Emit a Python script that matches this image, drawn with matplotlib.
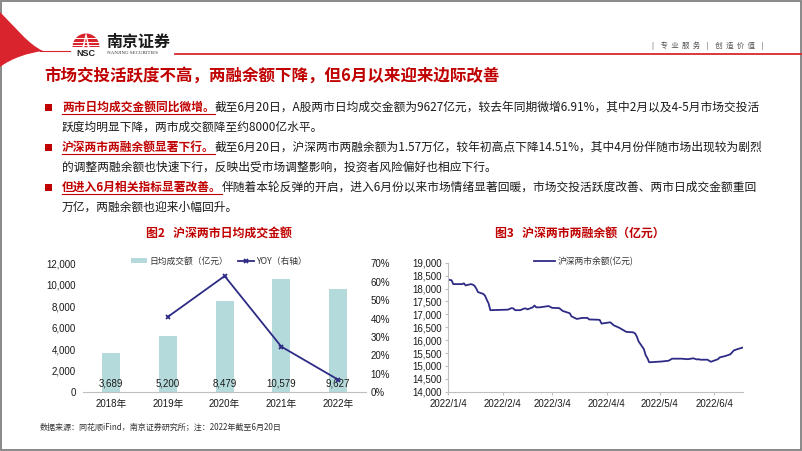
import matplotlib
matplotlib.use("Agg")
import matplotlib.pyplot as plt
from matplotlib.path import Path
from matplotlib.patches import PathPatch, Rectangle, Wedge, Polygon
from matplotlib.ticker import FuncFormatter, MultipleLocator
from matplotlib.lines import Line2D
import pandas as pd
import numpy as np

CJK = ['Noto Sans CJK SC', 'DejaVu Sans']
LAT = ['Liberation Sans', 'Noto Sans CJK SC']
plt.rcParams['font.family'] = LAT

# ---------------- data ----------------
years = ["2018年", "2019年", "2020年", "2021年", "2022年"]
turnover = [3689, 5200, 8479, 10579, 9627]
yoy = [np.nan, 41.0, 63.1, 24.8, 6.91]

margin_dates = [
    "2022-01-04", "2022-01-05", "2022-01-06", "2022-01-07", "2022-01-10", "2022-01-12",
    "2022-01-13", "2022-01-14", "2022-01-17", "2022-01-18", "2022-01-19", "2022-01-20",
    "2022-01-21", "2022-01-24", "2022-01-25", "2022-01-26", "2022-01-27", "2022-01-28",
    "2022-02-07", "2022-02-08", "2022-02-09", "2022-02-10", "2022-02-11", "2022-02-14",
    "2022-02-16", "2022-02-17", "2022-02-18", "2022-02-21", "2022-02-22", "2022-02-23",
    "2022-02-25", "2022-02-28", "2022-03-02", "2022-03-04", "2022-03-08", "2022-03-10",
    "2022-03-14", "2022-03-15", "2022-03-18", "2022-03-21", "2022-03-24", "2022-03-25",
    "2022-03-30", "2022-03-31", "2022-04-01", "2022-04-06", "2022-04-08", "2022-04-11",
    "2022-04-14", "2022-04-15", "2022-04-19", "2022-04-20", "2022-04-21", "2022-04-22",
    "2022-04-25", "2022-04-26", "2022-04-27", "2022-04-28", "2022-05-05", "2022-05-09",
    "2022-05-11", "2022-05-16", "2022-05-20", "2022-05-23", "2022-05-25", "2022-05-26",
    "2022-05-27", "2022-05-31", "2022-06-02", "2022-06-06", "2022-06-07", "2022-06-10",
    "2022-06-13", "2022-06-15", "2022-06-17", "2022-06-20"]
margin_values = [
    18350, 18330, 18320, 18170, 18170, 18170,
    18200, 18120, 18170, 18150, 18110, 18000,
    17860, 17790, 17720, 17560, 17420, 17160,
    17180, 17210, 17240, 17230, 17160, 17160,
    17220, 17230, 17190, 17270, 17340, 17270,
    17270, 17300, 17320, 17250, 17240, 17130,
    17040, 16920, 16820, 16860, 16860, 16800,
    16790, 16780, 16640, 16690, 16570, 16480,
    16360, 16320, 16300, 16260, 16140, 15950,
    15650, 15420, 15300, 15140, 15170, 15200,
    15280, 15280, 15260, 15295, 15250, 15260,
    15240, 15240, 15160, 15260, 15330, 15380,
    15450, 15600, 15650, 15710]
margin_ticks = ["2022-01-04", "2022-02-04", "2022-03-04", "2022-04-04", "2022-05-04", "2022-06-04"]
margin_tick_labels = ["2022/1/4", "2022/2/4", "2022/3/4", "2022/4/4", "2022/5/4", "2022/6/4"]

title_main = "市场交投活跃度不高，两融余额下降，但6月以来迎来边际改善"
bullets = [
    ("两市日均成交金额同比微增。",
     "截至6月20日，A股两市日均成交金额为9627亿元，较去年同期微增6.91%，其中2月以及4-5月市场交投活",
     "跃度均明显下降，两市成交额降至约8000亿水平。"),
    ("沪深两市两融余额显著下行。",
     "截至6月20日，沪深两市两融余额为1.57万亿，较年初高点下降14.51%，其中4月份伴随市场出现较为剧烈",
     "的调整两融余额也快速下行，反映出受市场调整影响，投资者风险偏好也相应下行。"),
    ("但进入6月相关指标显著改善。",
     "伴随着本轮反弹的开启，进入6月份以来市场情绪显著回暖，市场交投活跃度改善、两市日成交金额重回",
     "万亿，两融余额也迎来小幅回升。"),
]
fig2_title = "图2   沪深两市日均成交金额"
fig3_title = "图3   沪深两市两融余额（亿元）"
source_note = "数据来源：同花顺iFind，南京证券研究所；注：2022年截至6月20日"

RED = '#C00000'
NAVY = '#2E2B86'
TEAL = '#B5DADB'

W, H = 802, 451
fig = plt.figure(figsize=(W / 100, H / 100), dpi=100)
fig.patch.set_facecolor('white')

bg = fig.add_axes([0, 0, 1, 1], zorder=0)
bg.set_xlim(0, W)
bg.set_ylim(H, 0)
bg.axis('off')

# frame
bg.add_patch(Rectangle((0.6, 0.6), W - 1.8, H - 1.8, fill=False, ec='#808080', lw=1.3))

# red swoosh
verts = [(0, 12), (16, 28), (28, 44), (43, 51), (28, 53), (12, 58), (0, 67), (0, 12)]
codes = [Path.MOVETO, Path.CURVE4, Path.CURVE4, Path.CURVE4, Path.CURVE4, Path.CURVE4, Path.CURVE4, Path.CLOSEPOLY]
bg.add_patch(PathPatch(Path(verts, codes), fc='#D9232D', ec='none'))
bg.plot([40, 70], [51, 51], color='#D9232D', lw=0.8)

# logo icon
bg.add_patch(Wedge((86, 47), 13.5, 180, 360, fc='#D9232D', ec='none'))
for yy in [37.5, 41.5, 45]:
    bg.plot([72, 100], [yy, yy], color='white', lw=0.7)
bg.add_patch(Polygon([(86, 32.5), (82.3, 47.2), (89.7, 47.2)], fc='white', ec='none'))
bg.add_patch(Polygon([(86, 37), (84.3, 47.2), (87.7, 47.2)], fc='#D9232D', ec='none'))
bg.text(86, 53.5, "NSC", ha='center', va='center', fontsize=6.5, fontweight='bold',
        family=LAT, color='#222222')
bg.text(106, 41.5, "南京证券", ha='left', va='center', fontsize=11.5, fontweight='bold',
        family=CJK, color='#1a1a1a')
bg.text(107, 53.5, "NANJING SECURITIES", ha='left', va='center', fontsize=3.6,
        family=['Liberation Serif', 'DejaVu Serif'], color='#333333')
bg.plot([175, W], [54.3, 54.3], color='#D7282F', lw=1.3)
bg.text(708, 45.5, "|    专  业  服  务    |    创  造  价  值    |", ha='center', va='center',
        fontsize=5.4, family=CJK, color='#555555')

# main title
bg.text(44, 76, title_main, ha='left', va='center', fontsize=11.9, family=CJK,
        color=RED, fontweight='bold')

# bullets
fig.canvas.draw()
renderer = fig.canvas.get_renderer()
fs = 8.45
line_y = [107, 147, 187]
for (hl, rest, l2), y in zip(bullets, line_y):
    bg.add_patch(Rectangle((45, y - 3.5), 7, 7, fc=RED, ec='none'))
    t1 = bg.text(62, y, hl, ha='left', va='center', fontsize=fs, family=CJK,
                 color=RED, fontweight='bold')
    bb = t1.get_window_extent(renderer)
    x_end = bb.x1
    bg.plot([62, x_end], [y + 7, y + 7], color=RED, lw=0.8)
    bg.text(x_end, y, rest, ha='left', va='center', fontsize=fs, family=CJK, color='#1a1a1a')
    bg.text(62, y + 20, l2, ha='left', va='center', fontsize=fs, family=CJK, color='#1a1a1a')

# chart titles
bg.text(219, 233, fig2_title, ha='center', va='center', fontsize=8.6, family=CJK,
        color=RED, fontweight='bold')
bg.text(580, 233, fig3_title, ha='center', va='center', fontsize=8.6, family=CJK,
        color=RED, fontweight='bold')

# footer
bg.text(40, 427, source_note, ha='left', va='center', fontsize=5.8, family=CJK, color='#333333')


def fbox(l, t, r, b):
    return [l / W, 1 - b / H, (r - l) / W, (b - t) / H]


# ---------------- bar chart ----------------
ax = fig.add_axes(fbox(83, 263.3, 366.3, 392.3), zorder=2)
ax.patch.set_alpha(0)
xs = np.arange(len(years))
ax.bar(xs, turnover, width=0.32, color=TEAL, label="日均成交额（亿元）", zorder=2)
ax.set_xlim(-0.5, len(years) - 0.5)
ax.set_ylim(0, 12000)
ax.yaxis.set_major_locator(MultipleLocator(2000))
ax.yaxis.set_major_formatter(FuncFormatter(lambda v, p: f"{int(v):,}"))
ax.set_xticks(xs)
ax.set_xticklabels(years, family=LAT)
for s in ['top', 'left', 'right']:
    ax.spines[s].set_visible(False)
ax.spines['bottom'].set_color('#BFBFBF')
ax.tick_params(axis='both', length=0, labelsize=7, colors='#1a1a1a')
ax.tick_params(axis='y', pad=5)
ax.tick_params(axis='x', pad=5)
for xi, v in zip(xs, turnover):
    ax.annotate(f"{v:,}", xy=(xi, 0), xytext=(0, 6), textcoords='offset points',
                ha='center', va='center', fontsize=7, color='#1a1a1a', zorder=5)

ax2 = ax.twinx()
ax2.set_ylim(0, 70)
ax2.yaxis.set_major_locator(MultipleLocator(10))
ax2.yaxis.set_major_formatter(FuncFormatter(lambda v, p: f"{int(round(v))}%"))
ax2.plot(xs, yoy, color=NAVY, lw=1.3, marker='x', ms=3.5, mew=1.3, label="YOY（右轴）", zorder=4)
for s in ['top', 'left', 'right', 'bottom']:
    ax2.spines[s].set_visible(False)
ax2.tick_params(axis='y', length=0, labelsize=7, colors='#1a1a1a', pad=3)

handles = [Rectangle((0, 0), 1, 1, fc=TEAL, ec='none'),
           Line2D([], [], color=NAVY, lw=1.3, marker='x', ms=3.5, mew=1.3)]
leg = ax.legend(handles, ["日均成交额（亿元）", "YOY（右轴）"], loc='center',
                bbox_to_anchor=(0.48, 1.015), ncol=2, frameon=False,
                prop={'family': CJK, 'size': 6.3}, handlelength=1.8, handleheight=0.45,
                handletextpad=0.2, columnspacing=1.2, borderpad=0)
for t in leg.get_texts():
    t.set_color('#333333')

# ---------------- line chart ----------------
ax3 = fig.add_axes(fbox(448, 262.7, 742.7, 391.7), zorder=2)
ax3.patch.set_alpha(0)
d = pd.to_datetime(margin_dates)
ax3.plot(d, margin_values, color=NAVY, lw=1.3, label="沪深两市余额(亿元)")
ax3.set_xlim(pd.Timestamp("2022-01-04"), pd.Timestamp("2022-06-20"))
ax3.set_ylim(14000, 19000)
ax3.yaxis.set_major_locator(MultipleLocator(500))
ax3.yaxis.set_major_formatter(FuncFormatter(lambda v, p: f"{int(v):,}"))
ax3.set_xticks(pd.to_datetime(margin_ticks))
ax3.set_xticklabels(margin_tick_labels)
for s in ['top', 'right']:
    ax3.spines[s].set_visible(False)
for s in ['left', 'bottom']:
    ax3.spines[s].set_color('#BFBFBF')
    ax3.spines[s].set_linewidth(0.8)
ax3.tick_params(axis='both', length=2.5, width=0.8, color='#BFBFBF', labelsize=7,
                labelcolor='#1a1a1a')
ax3.tick_params(axis='y', pad=2)
ax3.tick_params(axis='x', pad=2.5)
leg3 = ax3.legend(loc='center', bbox_to_anchor=(0.46, 1.01), frameon=False,
                  prop={'family': CJK, 'size': 6.3}, handlelength=2.4, handletextpad=0.3,
                  borderpad=0)
for t in leg3.get_texts():
    t.set_color('#333333')

fig.savefig("out.png", dpi=100, facecolor='white')
